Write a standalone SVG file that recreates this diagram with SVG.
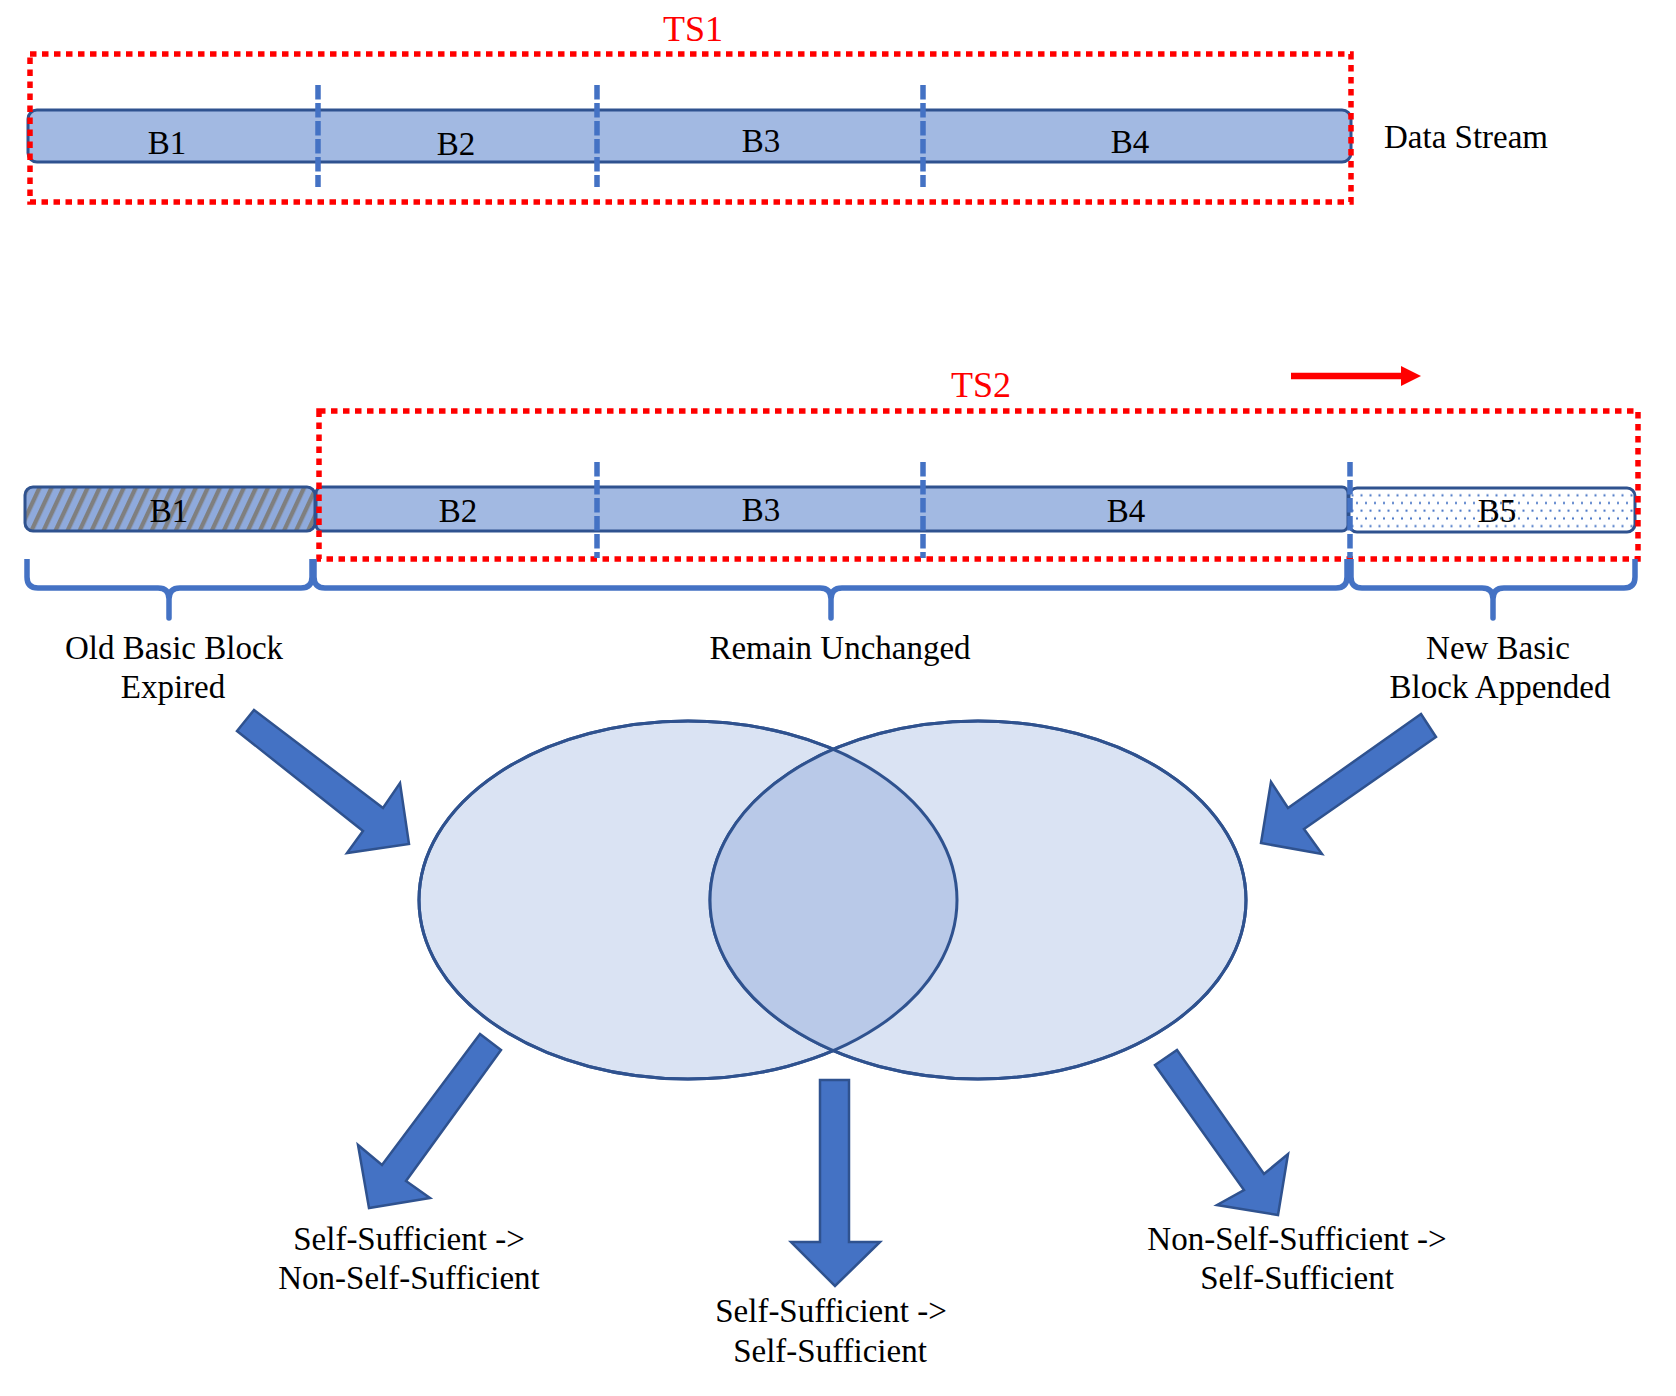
<svg xmlns="http://www.w3.org/2000/svg" width="1676" height="1396" viewBox="0 0 1676 1396">
<style>
text{font-family:"Liberation Serif","Times New Roman",serif;font-size:33px;fill:#000;text-anchor:middle}
.ts{fill:#FF0000;font-size:36px}
.bar{fill:#A2B9E2;stroke:#2F528F;stroke-width:3}
.win{fill:none;stroke:#FF0000;stroke-width:5.5;stroke-dasharray:6.5 5.5}
.sep{stroke:#4472C4;stroke-width:5.5;stroke-dasharray:14.5 3.5;fill:none}
.brace{fill:none;stroke:#4472C4;stroke-width:5.5;stroke-linejoin:round}
.blk{fill:#4472C4;stroke:#2F528F;stroke-width:2.5;stroke-linejoin:miter}
.ell{fill:#DAE3F3;stroke:#2F528F;stroke-width:3}
</style>
<defs>
<pattern id="hatch" patternUnits="userSpaceOnUse" width="10.9" height="10.9" patternTransform="rotate(25)">
<rect width="10.9" height="10.9" fill="#8FAADC"/>
<rect x="0" y="0" width="4.3" height="10.9" fill="#7F7F7F"/>
</pattern>
<pattern id="dots" patternUnits="userSpaceOnUse" width="9" height="15.4">
<rect width="9" height="15.4" fill="#FFFFFF"/>
<rect x="1.5" y="1.5" width="2" height="2" fill="#4472C4"/>
<rect x="6" y="9.2" width="2" height="2" fill="#4472C4"/>
</pattern>
<clipPath id="clipL"><ellipse cx="688" cy="900" rx="269" ry="179"/></clipPath>
</defs>

<g id="row1">
<rect id="bar1" class="bar" x="28" y="110" width="1323" height="52" rx="9"/>
<text x="167" y="154">B1</text>
<text x="456" y="155">B2</text>
<text x="761" y="152">B3</text>
<text x="1130" y="153">B4</text>
<line class="sep" x1="318" y1="85" x2="318" y2="187"/>
<line class="sep" x1="597" y1="85" x2="597" y2="187"/>
<line class="sep" x1="923" y1="85" x2="923" y2="187"/>
</g>
<g id="ts1">
<rect class="win" x="30" y="54" width="1321" height="148"/>
<text class="ts" x="693" y="41">TS1</text>
</g>
<text x="1384" y="148" style="text-anchor:start">Data Stream</text>

<g id="arrow-red">
<line x1="1291" y1="376" x2="1405" y2="376" stroke="#FF0000" stroke-width="6.5"/>
<polygon points="1401,366 1421,376 1401,386" fill="#FF0000"/>
</g>

<g id="row2">
<rect id="b1old" x="25" y="487" width="290" height="44" rx="8" fill="url(#hatch)" stroke="#2F528F" stroke-width="3"/>
<rect id="bar2" class="bar" x="316" y="487" width="1032" height="44" rx="6"/>
<rect id="b5new" x="1349" y="488" width="286" height="44" rx="8" fill="url(#dots)" stroke="#2F528F" stroke-width="3"/>
<text x="169" y="522">B1</text>
<text x="458" y="522">B2</text>
<text x="761" y="521">B3</text>
<text x="1126" y="522">B4</text>
<text x="1497" y="522">B5</text>
</g>
<g id="ts2">
<rect class="win" x="319" y="411" width="1319" height="148"/>
<text class="ts" x="981" y="397">TS2</text>
</g>
<g id="seps2">
<line class="sep" x1="597" y1="462" x2="597" y2="558"/>
<line class="sep" x1="923" y1="462" x2="923" y2="558"/>
<line class="sep" x1="1350" y1="462" x2="1350" y2="558"/>
</g>

<g id="braces">
<path class="brace" d="M27,559 V577 Q27,588 38,588 H158 Q169,588 169,599 V618 V599 Q169,588 180,588 H301 Q312,588 312,577 V559"/>
<path class="brace" d="M314,559 V577 Q314,588 325,588 H820 Q831,588 831,599 V618 V599 Q831,588 842,588 H1336 Q1347,588 1347,577 V559"/>
<path class="brace" d="M1351,559 V577 Q1351,588 1362,588 H1482 Q1493,588 1493,599 V618 V599 Q1493,588 1504,588 H1624 Q1635,588 1635,577 V559"/>
</g>
<text x="174" y="659">Old Basic Block</text>
<text x="173" y="698">Expired</text>
<text x="840" y="659">Remain Unchanged</text>
<text x="1498" y="659">New Basic</text>
<text x="1500" y="698">Block Appended</text>

<g id="venn">
<ellipse id="setL" class="ell" cx="688" cy="900" rx="269" ry="179"/>
<ellipse id="setR" class="ell" cx="978" cy="900" rx="268" ry="179"/>
<ellipse cx="978" cy="900" rx="268" ry="179" fill="#B9C9E8" clip-path="url(#clipL)"/>
<ellipse cx="688" cy="900" rx="269" ry="179" fill="none" stroke="#2F528F" stroke-width="3"/>
<ellipse cx="978" cy="900" rx="268" ry="179" fill="none" stroke="#2F528F" stroke-width="3"/>
</g>

<g id="connectors">
<polygon class="blk" points="254,710 383,808 400,783 409,844 347,853 363,831 237,731"/>
<polygon class="blk" points="1421,714 1436,737 1304,829 1322,854 1261,843 1271,782 1288,808"/>
<polygon class="blk" points="480,1034 501,1050 406,1181 430,1198 369,1208 358,1145 382,1165"/>
<polygon class="blk" points="820,1080 849,1080 849,1242 880,1242 835,1286 791,1242 820,1242"/>
<polygon class="blk" points="1177,1050 1264,1174 1288,1154 1278,1215 1217,1205 1244,1190 1155,1065"/>
</g>

<text x="409" y="1250">Self-Sufficient -&gt;</text>
<text x="409" y="1289">Non-Self-Sufficient</text>
<text x="831" y="1322">Self-Sufficient -&gt;</text>
<text x="830" y="1362">Self-Sufficient</text>
<text x="1297" y="1250">Non-Self-Sufficient -&gt;</text>
<text x="1297" y="1289">Self-Sufficient</text>
</svg>
